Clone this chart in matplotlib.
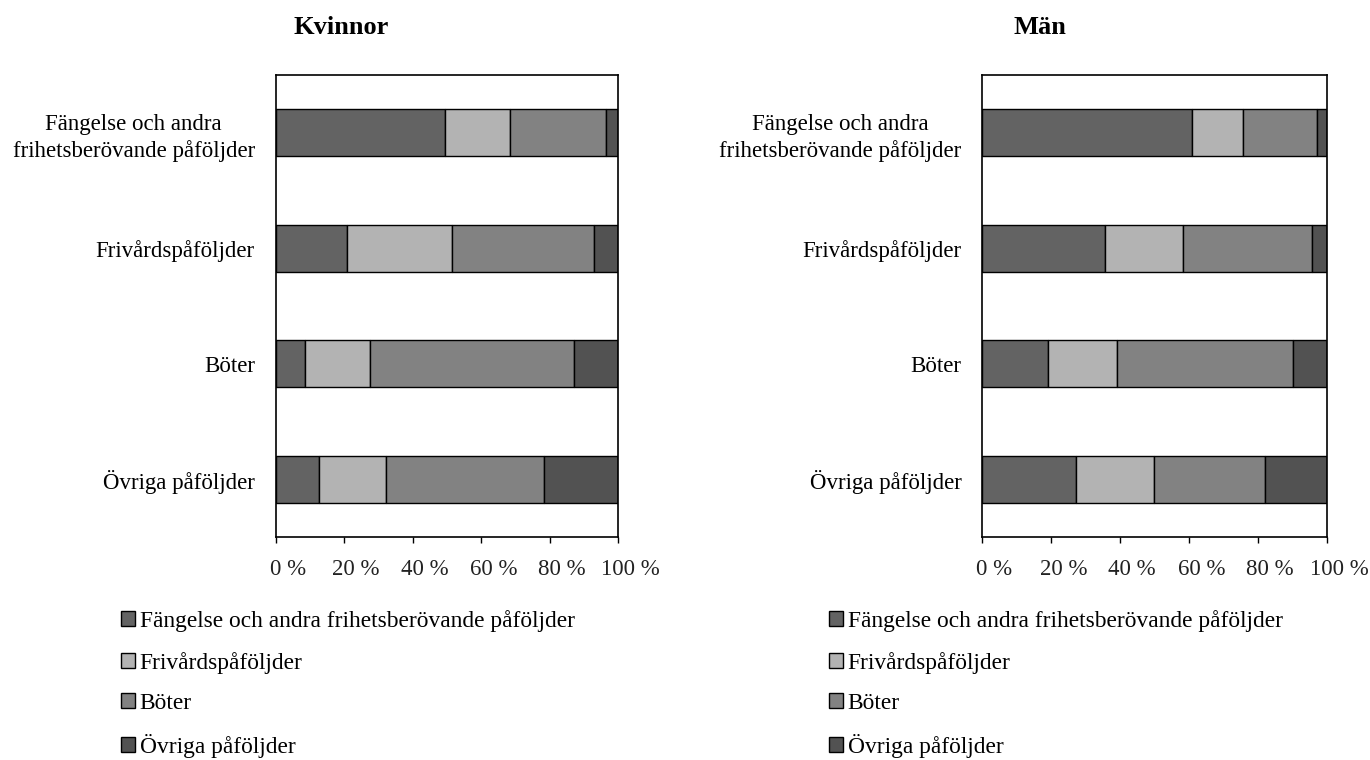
import matplotlib
matplotlib.use("Agg")
import matplotlib.pyplot as plt
import matplotlib.transforms as mtransforms
import numpy as np

plt.rcParams['font.family'] = ['Liberation Serif', 'DejaVu Serif']

categories = ["Fängelse och andra\nfrihetsberövande påföljder",
              "Frivårdspåföljder", "Böter", "Övriga påföljder"]
series_names = ["Fängelse och andra frihetsberövande påföljder",
                "Frivårdspåföljder", "Böter", "Övriga påföljder"]
colors = ["#636363", "#b3b3b3", "#828282", "#525252"]

# rows = categories, columns = series (percent)
kvinnor = [
    [49.4, 19.1, 27.8, 3.7],
    [20.7, 30.7, 41.5, 7.1],
    [8.6, 18.9, 59.7, 12.8],
    [12.6, 19.6, 46.1, 21.7],
]
man = [
    [60.7, 14.8, 21.5, 3.0],
    [35.6, 22.7, 37.4, 4.3],
    [19.0, 20.0, 51.2, 9.8],
    [27.2, 22.6, 32.2, 18.0],
]
xticks = [0, 20, 40, 60, 80, 100]
xticklabels = ["0 %", "20 %", "40 %", "60 %", "80 %", "100 %"]

W, H = 1370, 760
fig = plt.figure(figsize=(W / 100, H / 100), dpi=100)

FS = 16.5

def panel(ax_rect, data, title, title_x, leg_x):
    ax = fig.add_axes(ax_rect)
    d = np.array(data)
    y = np.arange(len(categories))
    left = np.zeros(len(categories))
    handles = []
    for j in range(d.shape[1]):
        b = ax.barh(y, d[:, j], left=left, height=0.405, color=colors[j],
                    edgecolor="black", linewidth=1.0, label=series_names[j])
        handles.append(b)
        left += d[:, j]
    ax.set_xlim(0, 100)
    ax.set_ylim(3.5, -0.5)
    ax.set_yticks(y)
    ax.set_yticklabels(categories, fontsize=FS, multialignment="center",
                       linespacing=1.3)
    ax.tick_params(axis="y", length=0, pad=15)
    ax.set_xticks(xticks)
    ax.set_xticklabels(xticklabels, fontsize=FS, color="#222222")
    ax.tick_params(axis="x", length=4, width=1.0, pad=12, direction="out")
    off = mtransforms.ScaledTranslation(12 / 100, 0, fig.dpi_scale_trans)
    for lab in ax.get_xticklabels():
        lab.set_transform(lab.get_transform() + off)
    for s in ax.spines.values():
        s.set_linewidth(1.2)
        s.set_color("black")
    fig.text(title_x, 1 - 27 / H, title, ha="center", va="center",
             fontsize=19, fontweight="bold")
    fig.legend(handles=handles, labels=series_names, loc="upper left",
               bbox_to_anchor=(leg_x, 1 - 610 / H), frameon=False,
               fontsize=16.8, handlelength=0.6, handleheight=0.6,
               handletextpad=0.2, labelspacing=0.84, borderpad=0,
               borderaxespad=0)
    return ax

ax1 = panel([275.7 / W, 1 - 537 / H, 342.6 / W, 462 / H], kvinnor,
            "Kvinnor", 341 / W, 121 / W)
ax2 = panel([982.3 / W, 1 - 537 / H, 345 / W, 462 / H], man,
            "Män", 1040 / W, 829 / W)

fig.savefig("out.png", dpi=100)
